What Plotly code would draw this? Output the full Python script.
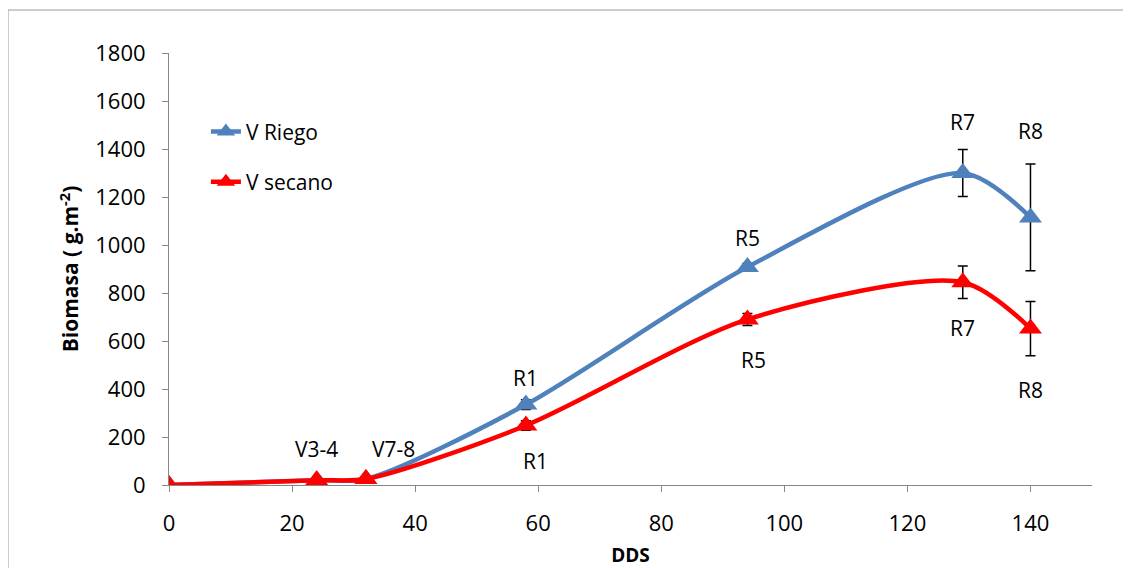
import plotly.graph_objects as go

dds = [0, 24, 32, 58, 94, 129, 140]
riego = [0, 20, 25, 335, 908, 1300, 1115]
riego_err = [0, 0, 0, 20, 15, 98, 222]
secano = [0, 20, 25, 248, 690, 845, 652]
secano_err = [0, 0, 0, 20, 25, 68, 113]

labels_riego = ["R1", "R5", "R7", "R8"]
labels_riego_x = [58, 94, 129, 140]
labels_riego_y = [446, 1029, 1512, 1475]
labels_secano = ["R1", "R5", "R7", "R8"]
labels_secano_x = [59.5, 95, 129, 140]
labels_secano_y = [100, 521, 654, 396]
labels_v = ["V3-4", "V7-8"]
labels_v_x = [24, 36.5]
labels_v_y = [148, 148]

font = "Open Sans"
fig = go.Figure()
fig.add_trace(go.Scatter(
    x=dds, y=riego, name="V Riego", mode="lines+markers",
    line=dict(color="#4F81BD", width=4.5, shape="spline", smoothing=0.8),
    marker=dict(symbol="triangle-up", size=20, color="#4F81BD"),
    error_y=dict(type="data", array=riego_err, color="black", thickness=1.5, width=5),
    legendgroup="a"))
fig.add_trace(go.Scatter(
    x=dds, y=secano, name="V secano", mode="lines+markers",
    line=dict(color="#FF0000", width=4.5, shape="spline", smoothing=0.8),
    marker=dict(symbol="triangle-up", size=20, color="#FF0000"),
    error_y=dict(type="data", array=secano_err, color="black", thickness=1.5, width=5),
    legendgroup="b"))

for t, x, y in zip(labels_riego + labels_secano + labels_v,
                   labels_riego_x + labels_secano_x + labels_v_x,
                   labels_riego_y + labels_secano_y + labels_v_y):
    fig.add_annotation(x=x, y=y, text=t, showarrow=False,
                       font=dict(family=font, size=21, color="black"))

fig.add_shape(type="rect", xref="paper", yref="paper", x0=-0.1744, x1=1.06, y0=-0.2, y1=1.0995,
              line=dict(color="#9a9a9a", width=1), layer="below")

fig.update_layout(
    width=1123, height=560,
    margin=dict(l=161, r=39, t=45, b=83),
    plot_bgcolor="white", paper_bgcolor="white",
    font=dict(family=font, size=22, color="black"),
    legend=dict(x=0.04, y=0.865, xanchor="left", yanchor="top", tracegroupgap=20,
                bgcolor="rgba(0,0,0,0)", font=dict(family=font, size=21)),
    xaxis=dict(range=[0, 150], tickvals=[0, 20, 40, 60, 80, 100, 120, 140],
               showgrid=False, zeroline=False, showline=True, linecolor="#868686", linewidth=1,
               ticks="outside", ticklen=6, tickcolor="#868686", ticklabelstandoff=13,
               tickfont=dict(size=22), automargin=False,
               title=dict(text="<b>DDS</b>", font=dict(family=font, size=19), standoff=16)),
    yaxis=dict(range=[0, 1800], dtick=200,
               showgrid=False, zeroline=False, showline=True, linecolor="#868686", linewidth=1,
               ticks="outside", ticklen=6, tickcolor="#868686", ticklabelstandoff=12,
               tickfont=dict(size=22), automargin=False,
               title=dict(text="<b>Biomasa ( g.m<sup>-2</sup>)</b>", font=dict(family=font, size=21), standoff=10)),
)
fig.write_html("out.html")
